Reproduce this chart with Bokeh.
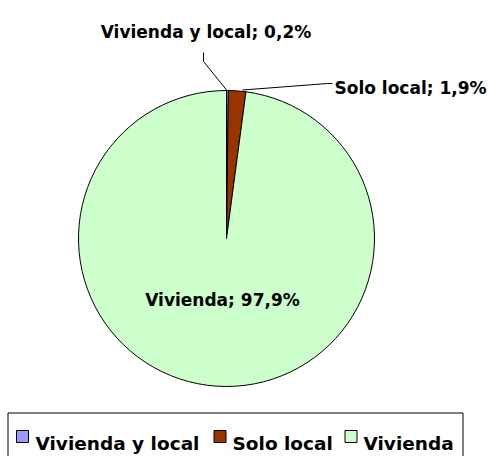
import math
from bokeh.plotting import figure
from bokeh.models import Range1d
from bokeh.core.properties import value
from bokeh.embed import file_html
from bokeh.resources import INLINE

# ---- data ----
categories = ["Vivienda y local", "Solo local", "Vivienda"]
shares = [0.2, 1.9, 97.9]
colors = ["#9999FF", "#993300", "#CCFFCC"]
label_texts = [f"{c}; {str(s).replace('.', ',')}%" for c, s in zip(categories, shares)]

# ---- layout (reference pixel coordinates, y measured from top) ----
W, H = 488, 456
CX, CY, R = 226, 238, 148
FONT = "DejaVu Sans"
FS_LABEL = "17px"
FS_LEG = "18.5px"


def Y(ry):
    return H - ry


p = figure(width=W, height=H, output_backend="svg", toolbar_location=None,
           x_range=Range1d(0, W), y_range=Range1d(0, H), min_border=0)
p.axis.visible = False
p.grid.visible = False
p.outline_line_color = None
p.background_fill_color = "white"
p.border_fill_color = "white"

# ---- pie ----
total = sum(shares)
cum = 0.0
starts, ends = [], []
for s in shares:
    starts.append(math.pi / 2 - 2 * math.pi * cum / total)
    cum += s
    ends.append(math.pi / 2 - 2 * math.pi * cum / total)

p.wedge(x=[CX] * 3, y=[Y(CY)] * 3, radius=R, start_angle=starts, end_angle=ends,
        direction="clock", fill_color=colors, line_color="black", line_width=1)

# ---- leader lines ----
p.line(x=[203, 203, 226.5], y=[Y(52), Y(61), Y(90)], line_color="black", line_width=1)
p.line(x=[332, 327, 242], y=[Y(83), Y(83), Y(89.5)], line_color="black", line_width=1)

# ---- data labels ----
p.text(x=[205.5], y=[Y(31)], text=[label_texts[0]], text_align="center",
       text_baseline="alphabetic", text_font=value(FONT), text_font_style="bold",
       text_font_size=FS_LABEL, text_color="black")
p.text(x=[334], y=[Y(87)], text=[label_texts[1]], text_align="left",
       text_baseline="alphabetic", text_font=value(FONT), text_font_style="bold",
       text_font_size=FS_LABEL, text_color="black")
p.text(x=[222], y=[Y(299)], text=[label_texts[2]], text_align="center",
       text_baseline="alphabetic", text_font=value(FONT), text_font_style="bold",
       text_font_size=FS_LABEL, text_color="black")

# ---- legend (box runs off the bottom edge as in the reference) ----
p.quad(left=[7.5], right=[462.5], top=[Y(412.5)], bottom=[Y(462)],
       fill_color=None, line_color="black", line_width=1)
sq_x = [22, 219.5, 350.5]
txt_x = [35, 232, 363]
p.rect(x=sq_x, y=[Y(436)] * 3, width=12, height=12, fill_color=colors,
       line_color="black", line_width=1)
p.text(x=txt_x, y=[Y(443)] * 3, text=categories, text_align="left",
       text_baseline="alphabetic", text_font=value(FONT), text_font_style="bold",
       text_font_size=FS_LEG, text_color="black")

open("out.html", "w").write(file_html(p, INLINE))
